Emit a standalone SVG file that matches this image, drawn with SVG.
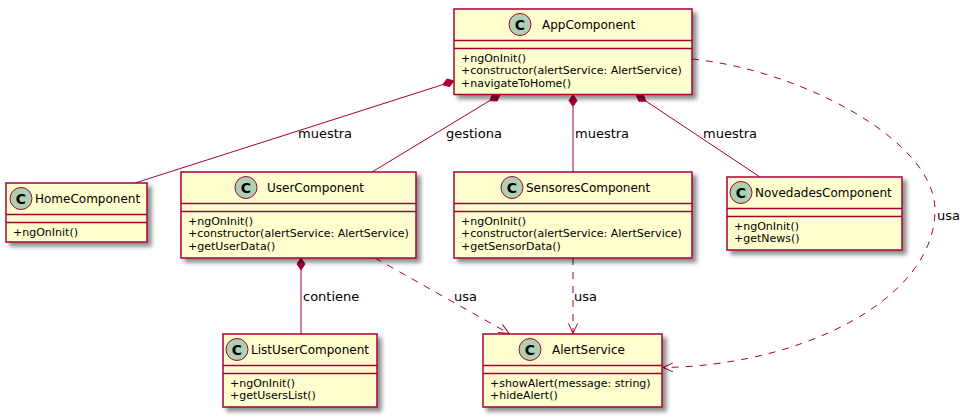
<svg xmlns="http://www.w3.org/2000/svg" width="970" height="417" viewBox="0 0 970 417">
<style>
.box{fill:#FEFECE;stroke:#A80036;stroke-width:1.5;filter:url(#sh)}
.sep{stroke:#A80036;stroke-width:1.5}
.circ{fill:#ADD1B2;stroke:#A80036;stroke-width:1}
.cg{font-family:"DejaVu Sans",sans-serif;font-size:14px;font-weight:bold;fill:#000;text-anchor:middle}
.name{font-family:"DejaVu Sans",sans-serif;font-size:12px;fill:#000}
.mem{font-family:"DejaVu Sans",sans-serif;font-size:11px;fill:#000}
.lbl{font-family:"DejaVu Sans",sans-serif;font-size:13px;fill:#000}
.ln{stroke:#A80036;stroke-width:1;fill:none}
.dash{stroke:#A80036;stroke-width:1;fill:none;stroke-dasharray:7,7}
.dia{fill:#A80036;stroke:#A80036;stroke-width:1}
</style>
<defs>
<filter id="sh" x="-10%" y="-10%" width="130%" height="140%">
<feGaussianBlur in="SourceAlpha" stdDeviation="2" result="b"/>
<feOffset in="b" dx="4" dy="4" result="o"/>
<feComponentTransfer in="o" result="o2"><feFuncA type="linear" slope="0.45"/></feComponentTransfer>
<feMerge><feMergeNode in="o2"/><feMergeNode in="SourceGraphic"/></feMerge>
</filter>
<marker id="arr" markerUnits="userSpaceOnUse" markerWidth="14" markerHeight="12" refX="11" refY="6" orient="auto" overflow="visible">
<path d="M1,1.5 L11,6 L1,10.5" fill="none" stroke="#A80036" stroke-width="1"/>
</marker>
</defs>

<g id="connectors">
<path class="ln" d="M442.6,84.7 L135,183"/>
<polygon class="dia" points="454,81 449.5,86.6 442.6,84.7 447.1,79.0"/>
<text class="lbl" x="298" y="137.5">muestra</text>
<path class="ln" d="M489.7,100.7 L372,172"/>
<polygon class="dia" points="500,94.5 497.2,100.9 489.7,100.7 492.5,94.3"/>
<text class="lbl" x="446" y="137.5">gestiona</text>
<path class="ln" d="M573,106.5 L573,172"/>
<polygon class="dia" points="573,94.5 577,100.5 573,106.5 569,100.5"/>
<text class="lbl" x="575" y="137.5">muestra</text>
<path class="ln" d="M646,101.2 L760,177"/>
<polygon class="dia" points="636,94.5 643.2,94.5 646,101.2 638.8,101.2"/>
<text class="lbl" x="703" y="137.5">muestra</text>
<path class="dash" d="M692,59 C800,70 935,140 935,210 C935,300 800,366 663,367.5" marker-end="url(#arr)"/>
<text class="lbl" x="937" y="219.5">usa</text>
<path class="ln" d="M301,270 L301,334"/>
<polygon class="dia" points="301,258 305,264 301,270 297,264"/>
<text class="lbl" x="303" y="300.5">contiene</text>
<path class="dash" d="M375,258 L509,333.5" marker-end="url(#arr)"/>
<text class="lbl" x="454" y="300.5">usa</text>
<path class="dash" d="M573,258 L573,333.5" marker-end="url(#arr)"/>
<text class="lbl" x="574" y="300.5">usa</text>
</g>

<g id="AppComponent">
<rect class="box" x="454" y="9" width="238" height="85.5"/>
<line class="sep" x1="454" y1="40.5" x2="692" y2="40.5"/>
<line class="sep" x1="454" y1="48.5" x2="692" y2="48.5"/>
<circle class="circ" cx="520" cy="24.5" r="11"/>
<text class="cg" x="520" y="29.5">C</text>
<text class="name" x="542" y="28.8">AppComponent</text>
<text class="mem" x="461" y="61.5">+ngOnInit()</text>
<text class="mem" x="461" y="74.1">+constructor(alertService: AlertService)</text>
<text class="mem" x="461" y="86.7">+navigateToHome()</text>
</g>

<g id="HomeComponent">
<rect class="box" x="6" y="183" width="141" height="59"/>
<line class="sep" x1="6" y1="214.5" x2="147" y2="214.5"/>
<line class="sep" x1="6" y1="222.5" x2="147" y2="222.5"/>
<circle class="circ" cx="21" cy="198.5" r="11"/>
<text class="cg" x="21" y="203.5">C</text>
<text class="name" x="35" y="202.8">HomeComponent</text>
<text class="mem" x="13" y="235.5">+ngOnInit()</text>
</g>

<g id="UserComponent">
<rect class="box" x="181" y="172" width="235" height="86"/>
<line class="sep" x1="181" y1="203.5" x2="416" y2="203.5"/>
<line class="sep" x1="181" y1="211.5" x2="416" y2="211.5"/>
<circle class="circ" cx="246" cy="187.5" r="11"/>
<text class="cg" x="246" y="192.5">C</text>
<text class="name" x="267" y="191.8">UserComponent</text>
<text class="mem" x="188" y="224.5">+ngOnInit()</text>
<text class="mem" x="188" y="237.1">+constructor(alertService: AlertService)</text>
<text class="mem" x="188" y="249.7">+getUserData()</text>
</g>

<g id="SensoresComponent">
<rect class="box" x="454" y="172" width="238" height="86"/>
<line class="sep" x1="454" y1="203.5" x2="692" y2="203.5"/>
<line class="sep" x1="454" y1="211.5" x2="692" y2="211.5"/>
<circle class="circ" cx="512" cy="187.5" r="11"/>
<text class="cg" x="512" y="192.5">C</text>
<text class="name" x="526" y="191.8">SensoresComponent</text>
<text class="mem" x="461" y="224.5">+ngOnInit()</text>
<text class="mem" x="461" y="237.1">+constructor(alertService: AlertService)</text>
<text class="mem" x="461" y="249.7">+getSensorData()</text>
</g>

<g id="NovedadesComponent">
<rect class="box" x="727" y="177" width="175" height="73"/>
<line class="sep" x1="727" y1="208.5" x2="902" y2="208.5"/>
<line class="sep" x1="727" y1="216.5" x2="902" y2="216.5"/>
<circle class="circ" cx="741" cy="192.5" r="11"/>
<text class="cg" x="741" y="197.5">C</text>
<text class="name" x="755" y="196.8">NovedadesComponent</text>
<text class="mem" x="734" y="229.5">+ngOnInit()</text>
<text class="mem" x="734" y="242.1">+getNews()</text>
</g>

<g id="ListUserComponent">
<rect class="box" x="223" y="334" width="154" height="73"/>
<line class="sep" x1="223" y1="365.5" x2="377" y2="365.5"/>
<line class="sep" x1="223" y1="373.5" x2="377" y2="373.5"/>
<circle class="circ" cx="237" cy="349.5" r="11"/>
<text class="cg" x="237" y="354.5">C</text>
<text class="name" x="251" y="353.8">ListUserComponent</text>
<text class="mem" x="230" y="386.5">+ngOnInit()</text>
<text class="mem" x="230" y="399.1">+getUsersList()</text>
</g>

<g id="AlertService">
<rect class="box" x="483" y="334" width="179" height="73"/>
<line class="sep" x1="483" y1="365.5" x2="662" y2="365.5"/>
<line class="sep" x1="483" y1="373.5" x2="662" y2="373.5"/>
<circle class="circ" cx="530" cy="349.5" r="11"/>
<text class="cg" x="530" y="354.5">C</text>
<text class="name" x="552" y="353.8">AlertService</text>
<text class="mem" x="490" y="386.5">+showAlert(message: string)</text>
<text class="mem" x="490" y="399.1">+hideAlert()</text>
</g>
</svg>
